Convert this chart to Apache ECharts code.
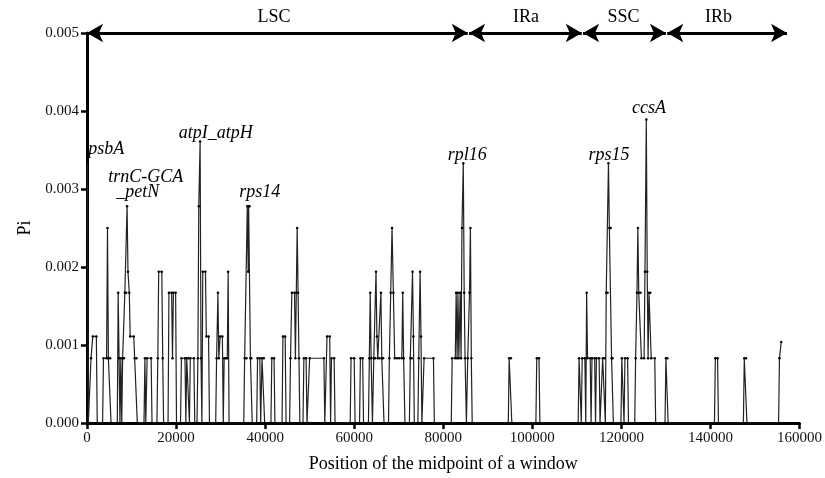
<!DOCTYPE html>
<html>
<head>
<meta charset="utf-8">
<script src="https://cdn.jsdelivr.net/npm/echarts@6/dist/echarts.min.js"></script>
<style>
  html, body { margin: 0; padding: 0; background: #fff; }
  #piChart { width: 825px; height: 478px; }
</style>
</head>
<body>
<div id="piChart"></div>
<script>
// sliding window positions (bp) and nucleotide diversity
var positions = [
    100, 300,
    700, 900, 1300, 2100, 2300,
    3500, 3700, 4400, 4600, 4800, 5200, 5400,
    6800, 7000, 7200, 7400, 7600, 7800, 8000, 8300, 8500, 8800, 9000, 9200, 9500, 9700, 10500, 10700, 11100, 11300,
    12800, 13000, 13200, 13500, 14400, 14600,
    15700, 15900, 16100, 16800, 17000, 17200,
    18200, 18400, 19000, 19200, 19400, 19900, 20100,
    21000, 21200, 22000, 22200, 22400, 22800, 23000, 23200, 24000, 24200,
    24700, 24900, 25100, 25400, 25600, 25800, 26000, 26600, 26800, 27300, 27500,
    28900, 29100, 29400, 29600, 29900, 30400, 30600, 30800, 31200, 31500, 31700, 31900,
    35200, 35400, 35800, 36000, 36200, 36300, 36500, 36700, 36900, 37100,
    38100, 38300, 38800, 39000, 39300, 39700, 39900,
    41300, 41500, 42000, 42200,
    43800, 44000, 44500, 44700,
    45500, 45700, 46000, 46600, 46800, 47000, 47200, 47400, 47600, 47800,
    48500, 48700, 49200, 49400,
    49800, 50000, 53200, 53400,
    53700, 53900, 54500, 54700, 54900, 55500, 55700,
    59100, 59300, 60000, 60200,
    61200, 61400, 61900, 62100,
    63200, 63400, 63600, 63800, 64100, 64400, 64700, 64900, 65100, 65300, 65700, 66000, 66200, 66500, 66700,
    67700, 67900, 68200, 68500, 68800, 69100, 69600, 70100, 70700, 70900, 71100, 71400,
    72400, 72600, 72900, 73100, 73300, 73500, 74300, 74500, 74800, 75000, 75200,
    75500, 75700, 77800, 78000,
    81800, 82000, 82700, 82900, 83100, 83300, 83500, 83800, 84000, 84200, 84500, 84700, 84900, 85200, 85500, 85900, 86100, 86300, 86500,
    94600, 94800, 95200, 95400,
    100800, 101000, 101500, 101700,
    110300, 110500, 111000, 111200, 111800, 112000, 112200, 112400, 113000, 113200, 113400, 114000, 114200, 114400, 115000, 115200,
    115600, 115800, 116200, 116400, 116600, 116900, 117100, 117300, 117600, 117800, 118000, 118200,
    119900, 120100, 120600, 120800, 121400, 121600,
    123000, 123200, 123500, 123700, 123900, 124300, 124500, 125100, 125300, 125600, 125800, 126000, 126200, 126500, 126700, 127500, 127700,
    129800, 130000, 130300, 130500,
    140900, 141100, 141600, 141800,
    147400, 147600, 148000, 148200,
    155300, 155500, 155900
];
var piValues = [
    0.00333, 0,
    0, 0.00083, 0.00111, 0.00111, 0,
    0, 0.00083, 0.00083, 0.0025, 0.00083, 0.00083, 0,
    0, 0.00167, 0.00083, 0, 0.00083, 0, 0.00083, 0.00083, 0.00167, 0.00167, 0.00278, 0.00194, 0.00167, 0.00111, 0.00111, 0.00083, 0.00083, 0,
    0, 0.00083, 0, 0.00083, 0.00083, 0,
    0, 0.00083, 0.00194, 0.00194, 0.00083, 0,
    0, 0.00167, 0.00167, 0.00083, 0.00167, 0.00167, 0,
    0, 0.00083, 0.00083, 0, 0.00083, 0.00083, 0, 0.00083, 0.00083, 0,
    0, 0.00083, 0.00278, 0.00361, 0.00083, 0, 0.00194, 0.00194, 0.00111, 0.00111, 0,
    0, 0.00083, 0.00167, 0.00083, 0.00111, 0.00111, 0, 0.00083, 0.00083, 0.00083, 0.00194, 0,
    0, 0.00083, 0.00083, 0.00278, 0.00194, 0.00278, 0.00278, 0.00083, 0.00083, 0,
    0, 0.00083, 0.00083, 0, 0.00083, 0.00083, 0,
    0, 0.00083, 0.00083, 0,
    0, 0.00111, 0.00111, 0,
    0, 0.00083, 0.00167, 0.00167, 0.00083, 0.00167, 0.0025, 0.00167, 0.00083, 0,
    0, 0.00083, 0.00083, 0,
    0, 0.00083, 0.00083, 0,
    0, 0.00111, 0.00111, 0, 0.00083, 0.00083, 0,
    0, 0.00083, 0.00083, 0,
    0, 0.00083, 0.00083, 0,
    0, 0.00083, 0.00167, 0.00083, 0, 0.00083, 0.00083, 0.00194, 0.00111, 0.00083, 0.00083, 0.00167, 0.00083, 0.00083, 0,
    0, 0.00083, 0.00167, 0.0025, 0.00167, 0.00083, 0.00083, 0.00083, 0.00083, 0.00167, 0.00083, 0,
    0, 0.00083, 0.00083, 0.00194, 0.00111, 0, 0, 0.00083, 0.00194, 0.00111, 0,
    0, 0.00083, 0.00083, 0,
    0, 0.00083, 0.00083, 0.00167, 0.00083, 0.00167, 0.00083, 0.00167, 0.00083, 0.0025, 0.00333, 0.00167, 0.00083, 0, 0.00083, 0.00167, 0.0025, 0.00083, 0,
    0, 0.00083, 0.00083, 0,
    0, 0.00083, 0.00083, 0,
    0, 0.00083, 0, 0.00083, 0.00083, 0, 0.00167, 0.00083, 0.00083, 0, 0.00083, 0.00083, 0, 0.00083, 0.00083, 0,
    0, 0.00083, 0.00083, 0, 0.00167, 0.00167, 0.00333, 0.0025, 0.0025, 0.00083, 0.00083, 0,
    0, 0.00083, 0, 0.00083, 0.00083, 0,
    0, 0.00083, 0.00167, 0.0025, 0.00167, 0.00167, 0.00083, 0.00083, 0.00194, 0.00389, 0.00194, 0.00083, 0.00167, 0.00167, 0.00083, 0.00083, 0,
    0, 0.00083, 0.00083, 0,
    0, 0.00083, 0.00083, 0,
    0, 0.00083, 0.00083, 0,
    0, 0.00083, 0.00104
];

// genome regions drawn as double arrows along the top
var regionNames = ['LSC', 'IRa', 'SSC', 'IRb'];
var regionStart = [0, 85800, 111400, 130300];
var regionEnd = [85500, 111100, 130000, 157200];
var regionLabelPos = [42000, 98600, 120500, 141800];

// highly variable loci labels
var geneNames = ['psbA', 'trnC-GCA', '_petN', 'atpI_atpH', 'rps14', 'rpl16', 'rps15', 'ccsA'];
var genePos = [4300, 13200, 11400, 28900, 38800, 85400, 117200, 126200];
var genePi = [0.00351, 0.00315, 0.00296, 0.00372, 0.00296, 0.00343, 0.00343, 0.00404];

var xTicks = [0, 160000, 20000];
var yTicks = [0, 0.005, 0.001];

var piChart = echarts.init(document.getElementById('piChart'));
var serif = '"Liberation Serif", "DejaVu Serif", serif';

var lineData = [];
for (var i = 0; i < positions.length; i++) {
    lineData.push([positions[i], piValues[i]]);
}
var geneData = [];
for (var j = 0; j < geneNames.length; j++) {
    geneData.push({name: geneNames[j], value: [genePos[j], genePi[j]]});
}
var arrowData = [];
var regionData = [];
for (var k = 0; k < regionNames.length; k++) {
    arrowData.push([{coord: [regionStart[k], 0.005]}, {coord: [regionEnd[k], 0.005]}]);
    regionData.push({name: regionNames[k], value: [regionLabelPos[k], 0.0052]});
}

var textLabel = function(italic) {
    return {
        show: true,
        position: 'inside',
        formatter: '{b}',
        fontFamily: serif,
        fontStyle: italic ? 'italic' : 'normal',
        fontSize: 18,
        color: '#000',
        opacity: 1
    };
};

var option = {
    animation: false,
    backgroundColor: '#fff',
    grid: {
        left: 87,
        right: 24,
        top: 33,
        bottom: 53
    },
    xAxis: {
        type: 'value',
        min: xTicks[0],
        max: xTicks[1],
        interval: xTicks[2],
        name: 'Position of the midpoint of a window',
        nameLocation: 'middle',
        nameGap: 32,
        nameTextStyle: {fontFamily: serif, fontSize: 18, color: '#000'},
        splitLine: {show: false},
        axisLine: {lineStyle: {color: '#000', width: 3}},
        axisTick: {length: 6, lineStyle: {color: '#000', width: 2.5}},
        axisLabel: {
            fontFamily: serif, fontSize: 15, color: '#111', margin: 8,
            formatter: function(v) { return String(v); }
        }
    },
    yAxis: {
        type: 'value',
        min: yTicks[0],
        max: yTicks[1],
        interval: yTicks[2],
        name: 'Pi',
        nameLocation: 'middle',
        nameGap: 44,
        nameTextStyle: {fontFamily: serif, fontSize: 18, color: '#000'},
        splitLine: {show: false},
        axisLine: {show: true, lineStyle: {color: '#000', width: 3}},
        axisTick: {show: true, length: 6, lineStyle: {color: '#000', width: 2.5}},
        axisLabel: {
            fontFamily: serif, fontSize: 15, color: '#111', margin: 8,
            formatter: function(v) { return v.toFixed(3); }
        }
    },
    series: [{
        name: 'Pi',
        type: 'line',
        data: lineData,
        showAllSymbol: true,
        symbol: 'circle',
        symbolSize: 2.5,
        itemStyle: {color: '#000'},
        lineStyle: {color: '#222', width: 1.2},
        z: 3
    }, {
        name: 'regions',
        type: 'scatter',
        data: regionData,
        symbolSize: 0,
        clip: false,
        itemStyle: {opacity: 1},
        label: textLabel(false),
        markLine: {
            silent: true,
            symbol: ['arrow', 'arrow'],
            symbolSize: [14, 16],
            label: {show: false},
            lineStyle: {color: '#000', width: 3, type: 'solid', opacity: 1},
            data: arrowData
        }
    }, {
        name: 'genes',
        type: 'scatter',
        data: geneData,
        symbolSize: 0,
        clip: false,
        itemStyle: {opacity: 1},
        label: textLabel(true)
    }]
};

piChart.setOption(option);
</script>
</body>
</html>
